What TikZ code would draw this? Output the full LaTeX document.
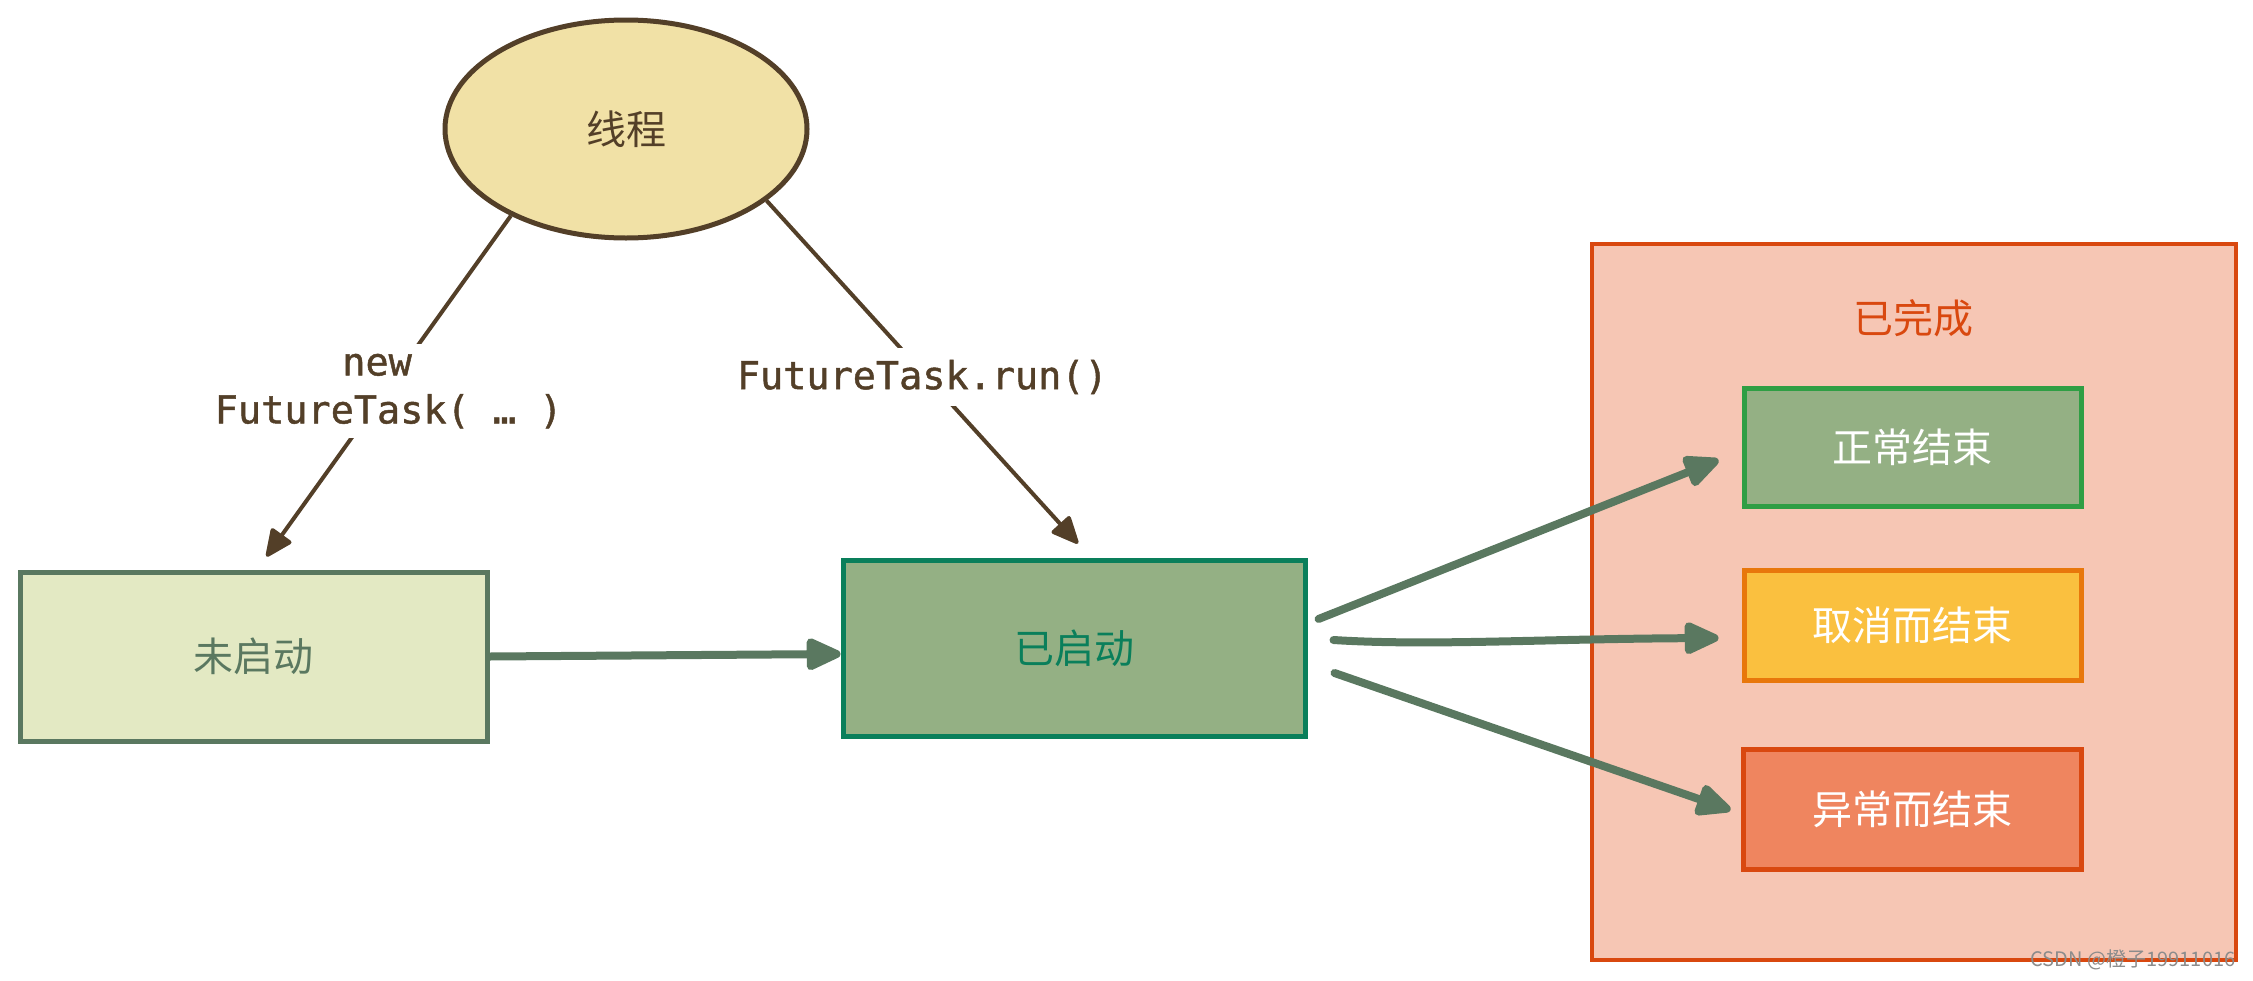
\documentclass[tikz,border=0pt]{standalone}
\usepackage{fontspec}
\setmainfont{Noto Sans CJK SC}
\newfontfamily\cjk{Noto Sans CJK SC}
\newfontfamily\codefont[FakeBold=1.2]{DejaVu Sans Mono}
\usetikzlibrary{arrows.meta,shapes.geometric,calc}
\definecolor{brownc}{HTML}{533F28}
\definecolor{ellfill}{HTML}{F1E1A6}
\definecolor{nsfill}{HTML}{E3E9C3}
\definecolor{nsdraw}{HTML}{5A7860}
\definecolor{ssfill}{HTML}{94B084}
\definecolor{ssdraw}{HTML}{0A7F5B}
\definecolor{donefill}{HTML}{F6C6B4}
\definecolor{donedraw}{HTML}{D9480F}
\definecolor{okdraw}{HTML}{2F9E44}
\definecolor{cancfill}{HTML}{FAC03F}
\definecolor{cancdraw}{HTML}{E8770B}
\definecolor{errfill}{HTML}{EF855F}
\definecolor{wmgray}{HTML}{8C8C8C}
\tikzset{
  cjktext/.style={font={\cjk\fontsize{40}{48}\selectfont}},
  statebox/.style={draw, rectangle, line width=5pt, inner sep=0pt, cjktext},
  codelabel/.style={font={\codefont\fontsize{38.5}{48}\selectfont}, text=brownc, fill=white, align=center, inner xsep=6pt},
  brownarrow/.style={draw=brownc, line width=4pt, -{Triangle[length=30pt,width=26pt,round]}},
  greenarrow/.style={draw=nsdraw, line width=8pt, line cap=round, -{Triangle[length=40pt,width=34pt,round]}}
}
\begin{document}
\begin{tikzpicture}[x=1pt,y=-1pt]
\useasboundingbox (0,0) rectangle (2253,980);
% thread ellipse
\node[ellipse, draw=brownc, fill=ellfill, line width=5pt, minimum width=362pt, minimum height=218pt, inner sep=0pt, text=brownc, cjktext] (th) at (626,129) {线程};
% not started / started
\node[statebox, draw=nsdraw, fill=nsfill, text=nsdraw, minimum width=467pt, minimum height=169pt] (ns) at (253.5,656.5) {未启动};
\node[statebox, draw=ssdraw, fill=ssfill, text=ssdraw, minimum width=462pt, minimum height=176pt] (ss) at (1074,648) {已启动};
% completed group
\node[draw=donedraw, fill=donefill, line width=4pt, rectangle, minimum width=644pt, minimum height=716pt, inner sep=0pt] (done) at (1914,602) {};
\node[text=donedraw, cjktext] (donetitle) at (1913,318) {已完成};
\node[statebox, draw=okdraw, fill=ssfill, text=white, minimum width=337pt, minimum height=118pt] (n1) at (1912.5,447) {正常结束};
\node[statebox, draw=cancdraw, fill=cancfill, text=white, minimum width=337pt, minimum height=110pt] (n2) at (1912.5,625) {取消而结束};
\node[statebox, draw=donedraw, fill=errfill, text=white, minimum width=338pt, minimum height=120pt] (n3) at (1912,809) {异常而结束};
% brown arrows with labels
\draw[brownarrow] (th.217.6) -- node[codelabel, inner ysep=10pt, yshift=-5pt] {new\hphantom{x}\\FutureTask( … )} ($(ns.north)+(13,-13)$);
\draw[brownarrow] (th.333.3) -- node[codelabel, inner ysep=12pt, yshift=-5pt] {FutureTask.run()} ($(ss.north)+(4,-14)$);
% green arrows
\draw[greenarrow] (ns.east) -- ($(ss.west)+(0,6)$);
\draw[greenarrow] ($(ss.east)+(11,-29)$) -- ($(n1.west)+(-23,13)$);
\draw[greenarrow] ($(ss.east)+(26,-8)$) .. controls ($(ss.east)+(120,-2)$) and ($(n2.west)+(-200,14)$) .. ($(n2.west)+(-23,13)$);
\draw[greenarrow] ($(ss.east)+(27,25)$) -- ($(n3.west)+(-10,1)$);
% watermark
\node[text=wmgray, font={\cjk\fontsize{20}{24}\selectfont}, inner sep=0pt] (wm) at (2133,960) {CSDN @橙子19911016};
\end{tikzpicture}
\end{document}
